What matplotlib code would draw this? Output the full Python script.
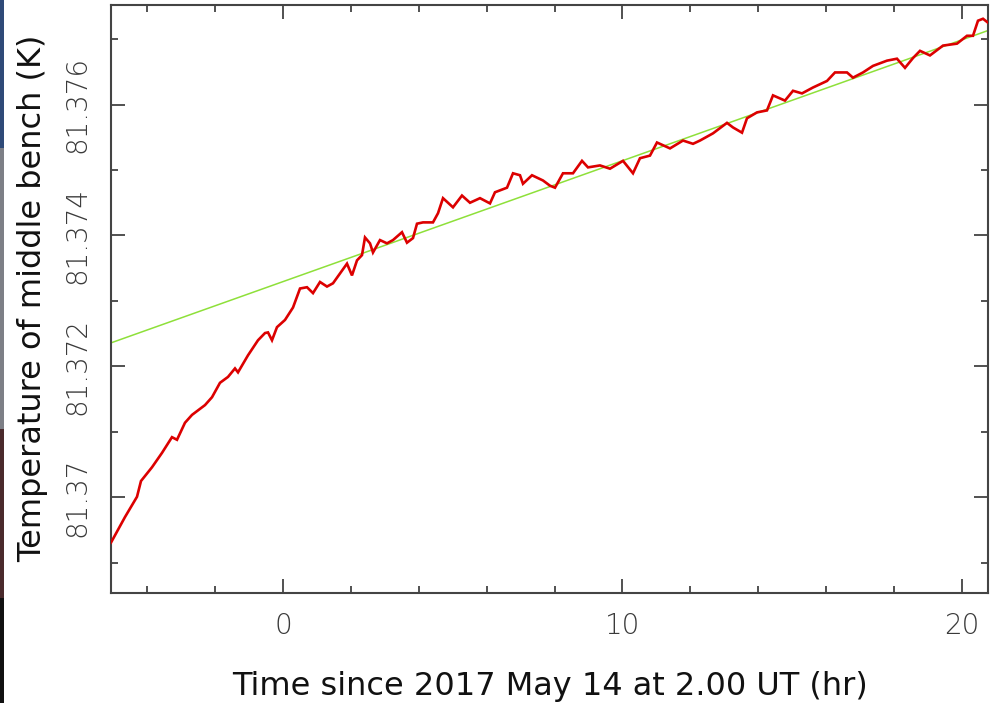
import matplotlib
matplotlib.use("Agg")
import matplotlib.pyplot as plt
from matplotlib.ticker import MultipleLocator, FixedLocator
from matplotlib.patches import Rectangle

# Bench temperature readings: hours since 2017 May 14 02:00 UT, and kelvin
time_hr = [
    -5.066, -4.654, -4.300, -4.183, -3.859, -3.564, -3.270, -3.122, -2.887, -2.680,
    -2.297, -2.091, -1.856, -1.620, -1.414, -1.325, -1.031, -0.736, -0.530, -0.442,
    -0.324, -0.177, 0.059, 0.295, 0.501, 0.707, 0.884, 1.090, 1.296, 1.473,
    1.679, 1.885, 2.032, 2.180, 2.327, 2.415, 2.563, 2.651, 2.857, 3.063,
    3.240, 3.505, 3.652, 3.829, 3.947, 4.124, 4.418, 4.566, 4.713, 5.007,
    5.272, 5.508, 5.803, 6.097, 6.244, 6.598, 6.775, 6.981, 7.069, 7.334,
    7.658, 7.865, 8.012, 8.247, 8.542, 8.807, 8.984, 9.337, 9.632, 10.015,
    10.309, 10.515, 10.810, 11.016, 11.399, 11.782, 12.077, 12.283, 12.666, 13.078,
    13.255, 13.520, 13.667, 13.962, 14.256, 14.433, 14.786, 15.022, 15.287, 15.611,
    16.024, 16.259, 16.613, 16.789, 17.084, 17.378, 17.791, 18.085, 18.321, 18.557,
    18.763, 19.057, 19.440, 19.853, 20.147, 20.324, 20.471, 20.619, 20.766,
]
temp_k = [
    81.36931, 81.36970, 81.37001, 81.37025, 81.37046, 81.37068, 81.37092, 81.37088, 81.37114, 81.37126,
    81.37141, 81.37153, 81.37175, 81.37184, 81.37197, 81.37191, 81.37217, 81.37240, 81.37251, 81.37252,
    81.37240, 81.37260, 81.37271, 81.37290, 81.37319, 81.37321, 81.37312, 81.37329, 81.37322, 81.37327,
    81.37342, 81.37357, 81.37339, 81.37362, 81.37370, 81.37397, 81.37388, 81.37374, 81.37393, 81.37388,
    81.37393, 81.37405, 81.37389, 81.37396, 81.37418, 81.37420, 81.37420, 81.37434, 81.37457, 81.37443,
    81.37461, 81.37450, 81.37457, 81.37449, 81.37466, 81.37473, 81.37495, 81.37492, 81.37479, 81.37492,
    81.37484, 81.37476, 81.37473, 81.37495, 81.37495, 81.37514, 81.37504, 81.37507, 81.37502, 81.37514,
    81.37495, 81.37518, 81.37522, 81.37542, 81.37533, 81.37545, 81.37540, 81.37545, 81.37556, 81.37572,
    81.37565, 81.37557, 81.37579, 81.37588, 81.37591, 81.37614, 81.37606, 81.37621, 81.37617, 81.37626,
    81.37636, 81.37649, 81.37649, 81.37641, 81.37649, 81.37659, 81.37667, 81.37670, 81.37656, 81.37671,
    81.37682, 81.37675, 81.37690, 81.37693, 81.37705, 81.37705, 81.37728, 81.37731, 81.37725,
]

# Linear fit to the late part of the run
fit_time = [-5.066, 20.766]
fit_temp = [81.37236, 81.37713]

x_major = [0, 10, 20]
y_major = [81.370, 81.372, 81.374, 81.376]
y_labels = ["81.37", "81.372", "81.374", "81.376"]

fig = plt.figure(figsize=(9.94, 7.03), dpi=100)
fig.patch.set_facecolor("white")

# thin strip of backdrop along the left edge
for y0, h, c in [(0.79, 0.21, "#2f4a78"), (0.39, 0.40, "#7d7f86"),
                 (0.15, 0.24, "#4a2a2c"), (0.0, 0.15, "#111111")]:
    fig.add_artist(Rectangle((0, y0), 0.0045, h, transform=fig.transFigure,
                             facecolor=c, edgecolor="none"))

ax = fig.add_axes([111 / 994, 1 - 593 / 703, (988 - 111) / 994, (593 - 5) / 703])

ax.plot(fit_time, fit_temp, color="#8ee03a", lw=1.1, zorder=2)
ax.plot(time_hr, temp_k, color="#dc0000", lw=1.9, zorder=3, solid_joinstyle="miter")

ax.set_xlim(-5.066, 20.766)
ax.set_ylim(81.36854, 81.37752)

ax.xaxis.set_major_locator(FixedLocator(x_major))
ax.xaxis.set_minor_locator(MultipleLocator(2))
ax.yaxis.set_major_locator(FixedLocator(y_major))
ax.set_yticklabels(y_labels)
ax.yaxis.set_minor_locator(MultipleLocator(0.001))

tick_family = ["DejaVu Sans"]
ax.tick_params(which="both", direction="in", top=True, right=True, color="#333333", width=1.2)
ax.tick_params(which="major", length=10)
ax.tick_params(which="minor", length=5)
ax.tick_params(axis="x", which="major", pad=14)
ax.tick_params(axis="y", which="major", pad=14)
for lab in ax.get_xticklabels():
    lab.update(dict(fontfamily=tick_family, fontsize=20, fontweight="light",
                    color="#3a3a3a"))
for lab in ax.get_yticklabels():
    lab.update(dict(fontfamily=tick_family, fontsize=20, fontweight="light",
                    color="#3a3a3a", rotation=90, va="center", ha="right"))

for sp in ax.spines.values():
    sp.set_color("#444444")
    sp.set_linewidth(1.5)

label_font = dict(fontfamily=["DejaVu Sans"], fontsize=23, color="#111111")
fig.text(550 / 994, 1 - 686 / 703, "Time since 2017 May 14 at 2.00 UT (hr)",
         ha="center", va="center", **label_font)
fig.text(33 / 994, 1 - 298 / 703, "Temperature of middle bench (K)",
         ha="center", va="center", rotation=90, **label_font)

fig.savefig("out.png", dpi=100)
